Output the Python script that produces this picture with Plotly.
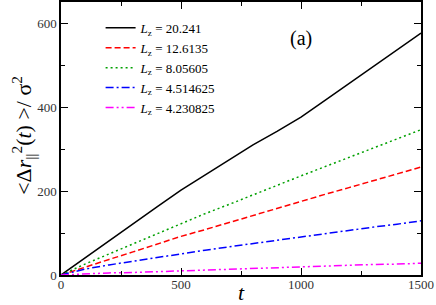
import plotly.graph_objects as go

t = [0, 100, 200, 300, 400, 500, 600, 700, 800, 900, 1000, 1100, 1200, 1300, 1400, 1500]
msd_20241 = [0, 41, 82, 122, 162, 202, 238, 275, 310, 342, 376, 416, 456, 496, 536, 576]
msd_126135 = [0, 19, 37, 55, 73, 92, 108, 125, 142, 159, 175, 192, 208, 224, 241, 257]
msd_805605 = [0, 26, 50, 74, 98, 122, 146, 168, 191, 213, 236, 258, 280, 302, 324, 346]
msd_4514625 = [0, 14, 24, 33, 42, 51, 59, 67, 75, 83, 91, 99, 106, 114, 121, 129]
msd_4230825 = [0, 3, 5, 6, 8, 10, 11, 13, 15, 17, 19, 21, 23, 25, 26, 28]

labels = ["20.241", "12.6135", "8.05605", "4.514625", "4.230825"]
series = [msd_20241, msd_126135, msd_805605, msd_4514625, msd_4230825]
colors = ["black", "red", "#00a000", "blue", "magenta"]
dashes = ["solid", "6px,3px", "2px,3px", "8px,3px,2px,3px", "8px,3px,2px,3px,2px,3px"]

FONT = "Liberation Serif"
Y_TITLE = "&lt;Δ<i>r</i><sub>||</sub><sup>2</sup>(<i>t</i>) &gt;/ σ<sup>2</sup>"

fig = go.Figure()
for lab, ys, c, d in zip(labels, series, colors, dashes):
    fig.add_trace(go.Scatter(
        x=t, y=ys, mode="lines",
        line=dict(color=c, width=1.5, dash=d),
        name=f"<i>L</i><sub>z</sub> = {lab}",
    ))

axis_common = dict(
    showline=True, linecolor="black", linewidth=1.5, mirror="allticks",
    ticks="inside", ticklen=7, tickwidth=1.2, tickcolor="black",
    showgrid=False, zeroline=False, automargin=False,
    tickfont=dict(family=FONT, size=13, color="#333"),
)

fig.update_xaxes(
    range=[0, 1500], dtick=500, tick0=0, ticklabelstandoff=-3,
    minor=dict(ticks="inside", ticklen=4, dtick=250, tickcolor="black", showgrid=False),
    title=dict(text="<i>t</i>", font=dict(family=FONT, size=22, color="black"), standoff=0),
    **axis_common,
)
fig.update_yaxes(
    range=[0, 650], dtick=200, tick0=0,
    minor=dict(ticks="inside", ticklen=4, dtick=100, tickcolor="black", showgrid=False),
    **axis_common,
)

fig.add_annotation(x=-0.103, y=0.513, xref="paper", yref="paper", text=Y_TITLE,
                   textangle=-90, showarrow=False, xanchor="center", yanchor="middle",
                   font=dict(family=FONT, size=22, color="black"))

fig.add_annotation(x=1000, y=564, xref="x", yref="y", text="(a)", showarrow=False,
                   font=dict(family=FONT, size=20, color="black"))

fig.update_layout(
    width=436, height=305,
    margin=dict(l=61, r=15, t=2, b=30, autoexpand=False),
    paper_bgcolor="white", plot_bgcolor="white",
    showlegend=True,
    legend=dict(x=0.11, y=0.96, xanchor="left", yanchor="top",
                bgcolor="rgba(0,0,0,0)", borderwidth=0,
                font=dict(family=FONT, size=13, color="black"),
                tracegroupgap=0),
)

fig.write_html("out.html", config={"displayModeBar": False},
               post_script="document.body.style.margin='0';")
